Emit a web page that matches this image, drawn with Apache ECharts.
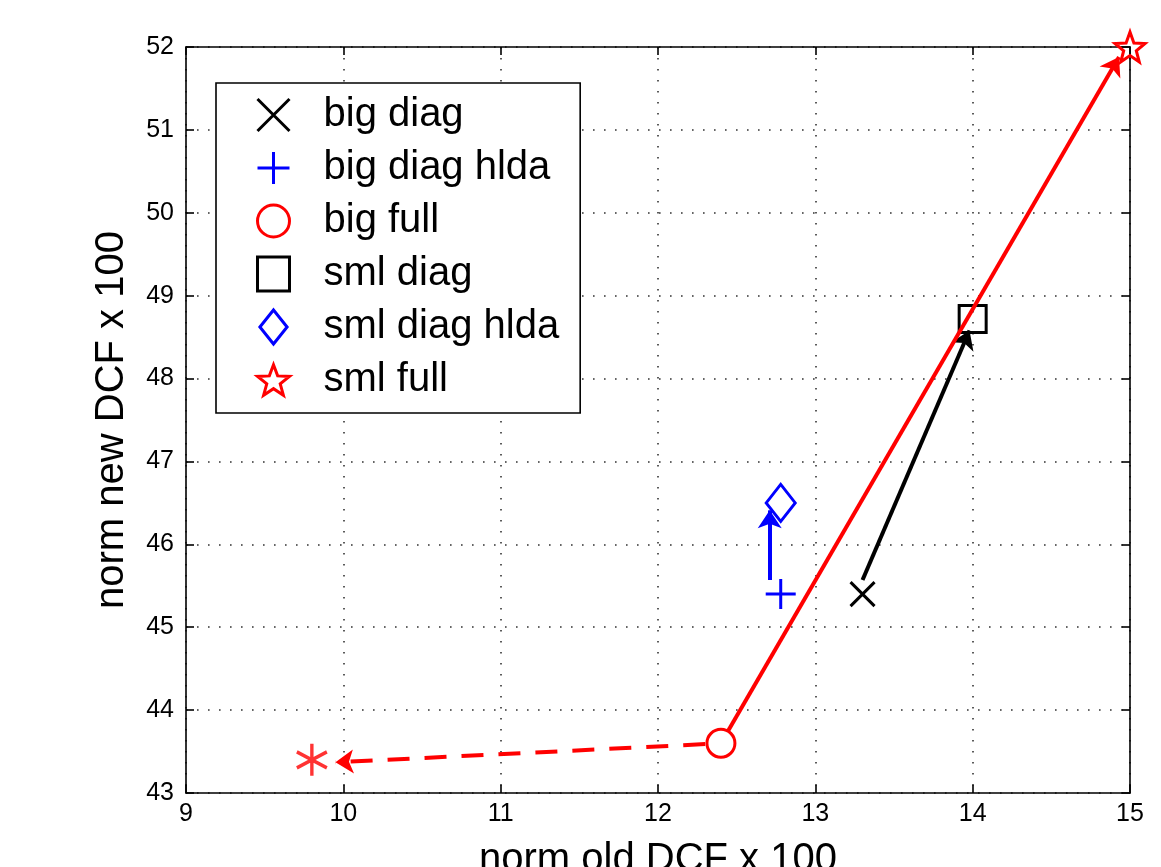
<!DOCTYPE html>
<html>
<head>
<meta charset="utf-8">
<script src="https://cdn.jsdelivr.net/npm/echarts@6/dist/echarts.min.js"></script>
<style>
html,body{margin:0;padding:0;background:#fff;}
#chart{width:1161px;height:867px;}
</style>
</head>
<body>
<div id="chart"></div>
<script>
// ---- data ----
const seriesNames = ['big diag', 'big diag hlda', 'big full', 'sml diag', 'sml diag hlda', 'sml full'];
const seriesX = [13.3, 12.78, 12.4, 14.0, 12.78, 15.0];
const seriesY = [45.4, 45.4, 43.6, 48.72, 46.5, 52.0];
const seriesColors = ['#000000', '#0000ff', '#ff0000', '#000000', '#0000ff', '#ff0000'];
const extraPoint = [9.8, 43.4]; // red asterisk
const arrowStart = [[13.3, 45.57], [12.71, 45.57], [12.4, 43.6], [12.3, 43.59]];
const arrowEnd = [[13.98, 48.58], [12.71, 46.41], [14.93, 51.88], [9.95, 43.37]];
const arrowColors = ['#000000', '#0000ff', '#ff0000', '#ff0000'];
const arrowDashed = [false, false, false, true];
const xTickMin = 9, xTickMax = 15, xTickStep = 1;
const yTickMin = 43, yTickMax = 52, yTickStep = 1;
const xTitle = 'norm old DCF x 100';
const yTitle = 'norm new DCF x 100';

// ---- symbol shapes ----
function starPath() {
  const pts = [];
  for (let i = 0; i < 10; i++) {
    const r = i % 2 ? 0.42 : 1;
    const a = -Math.PI / 2 + i * Math.PI / 5;
    pts.push([(10 + 10 * r * Math.cos(a)).toFixed(3), (10 + 10 * r * Math.sin(a)).toFixed(3)]);
  }
  return 'path://M' + pts.map(p => p.join(',')).join('L') + 'Z';
}
const SYM_X = 'path://M0,0L10,10M10,0L0,10';
const SYM_PLUS = 'path://M5,0L5,10M0,5L10,5';
const SYM_STAR = starPath();
const SYM_AST = 'path://M5,0L5,10M0.67,2.5L9.33,7.5M0.67,7.5L9.33,2.5';
const SYM_DIAMOND = 'path://M4,0L8,5L4,10L0,5Z';
const symbols = [SYM_X, SYM_PLUS, 'circle', 'rect', SYM_DIAMOND, SYM_STAR];
const symSizes = [24, 30, 28, 27, [29, 37], 30];
const fills = ['rgba(0,0,0,0)', 'rgba(0,0,0,0)', '#ffffff', 'rgba(0,0,0,0)', 'rgba(0,0,0,0)', 'rgba(0,0,0,0)'];
const zs = [6, 6, 6, 2, 6, 6];

const tickFont = { fontFamily: '"Liberation Sans Narrow", "Liberation Sans", Arial, sans-serif', fontSize: 25, color: '#000' };
const titleFont = { fontFamily: '"Liberation Sans", Arial, Helvetica, sans-serif', fontSize: 40, color: '#000' };

const gridDots = { show: true, lineStyle: { color: '#333', width: 1.6, type: [1.6, 9.4] } };

function mkAxis(dim, pos, showLabel, isMain) {
  const isX = dim === 'x';
  return {
    type: 'value',
    position: pos,
    min: isX ? xTickMin : yTickMin,
    max: isX ? xTickMax : yTickMax,
    interval: isX ? xTickStep : yTickStep,
    name: isMain ? (isX ? xTitle : yTitle) : '',
    nameLocation: 'middle',
    nameGap: isX ? 47 : 54,
    nameTextStyle: titleFont,
    axisLine: { show: true, onZero: false, lineStyle: { color: '#000', width: 1.6 } },
    axisTick: { show: true, inside: true, length: 8, lineStyle: { color: '#000', width: 1.6 } },
    axisLabel: Object.assign({ show: showLabel, margin: isX ? 9 : 12 }, tickFont),
    splitLine: isMain ? gridDots : { show: false },
    silent: true
  };
}

const series = [];
for (let i = 0; i < seriesNames.length; i++) {
  series.push({
    name: seriesNames[i],
    type: 'scatter',
    data: [[seriesX[i], seriesY[i]]],
    symbol: symbols[i],
    symbolSize: symSizes[i],
    clip: false,
    z: zs[i],
    silent: true,
    itemStyle: { color: fills[i], borderColor: seriesColors[i], borderWidth: 3, opacity: 1 },
    emphasis: { disabled: true }
  });
}
series.push({
  name: 'extra',
  type: 'scatter',
  data: [extraPoint],
  symbol: SYM_AST,
  symbolSize: [30, 32],
  clip: false,
  z: 6,
  silent: true,
  itemStyle: { color: 'rgba(0,0,0,0)', borderColor: '#ff0000', borderWidth: 3.5 },
  emphasis: { disabled: true }
});
for (let i = 0; i < arrowStart.length; i++) {
  series.push({
    type: 'lines',
    coordinateSystem: 'cartesian2d',
    z: 4,
    silent: true,
    symbol: ['none', 'arrow'],
    symbolSize: 18,
    lineStyle: { color: arrowColors[i], width: 4, opacity: 1, type: arrowDashed[i] ? [22, 15] : 'solid' },
    data: [{ coords: [arrowStart[i], arrowEnd[i]] }]
  });
}

const option = {
  backgroundColor: '#ffffff',
  animation: false,
  grid: { left: 186, right: 31, top: 47, bottom: 74, containLabel: false, outerBoundsMode: 'none' },
  xAxis: [mkAxis('x', 'bottom', true, true), mkAxis('x', 'top', false, false)],
  yAxis: [mkAxis('y', 'left', true, true), mkAxis('y', 'right', false, false)],
  legend: {
    orient: 'vertical',
    left: 216,
    top: 83,
    padding: [12, 21, 13, 40],
    itemGap: 13,
    itemWidth: 32,
    itemHeight: 34,
    selectedMode: false,
    backgroundColor: '#ffffff',
    borderColor: '#000',
    borderWidth: 1.6,
    borderRadius: 0,
    textStyle: { fontFamily: '"Liberation Sans", Arial, sans-serif', fontSize: 40, color: '#000', padding: [0, 0, 0, 29] },
    data: seriesNames.map((n, i) => ({
      name: n,
      icon: symbols[i],
      itemStyle: { color: i === 2 ? '#ffffff' : 'rgba(0,0,0,0)', borderColor: seriesColors[i], borderWidth: 3 }
    }))
  },
  series: series
};

const chart = echarts.init(document.getElementById('chart'), null, { renderer: 'canvas' });
chart.setOption(option);
</script>
</body>
</html>
